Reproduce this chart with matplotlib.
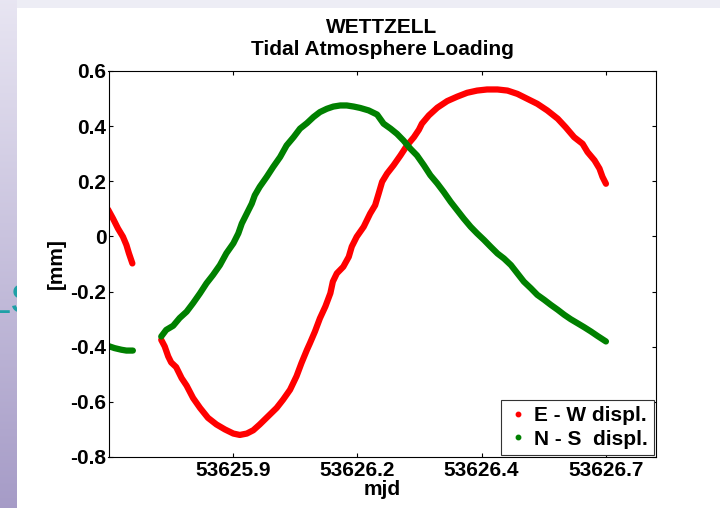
import numpy as np
import matplotlib
matplotlib.use('Agg')
import matplotlib.pyplot as plt
from matplotlib.lines import Line2D
from matplotlib.patches import Rectangle

plt.rcParams['font.family'] = 'Liberation Sans'
plt.rcParams['font.weight'] = 'bold'
plt.rcParams['font.size'] = 15

# Tidal atmosphere loading at WETTZELL, displacement in mm vs. mjd
# E-W component, short first piece and main piece after the data gap
ew_mjd_a = [53625.649, 53625.659, 53625.669, 53625.679, 53625.686, 53625.691, 53625.698]
ew_a = [0.098, 0.065, 0.029, -0.001, -0.031, -0.061, -0.098]

ew_mjd_b = [53625.756, 53625.763, 53625.770, 53625.776, 53625.786, 53625.797, 53625.807,
            53625.820, 53625.834, 53625.850, 53625.867, 53625.884, 53625.901, 53625.914,
            53625.928, 53625.941, 53625.954, 53625.971, 53625.988, 53626.001, 53626.015,
            53626.028, 53626.038, 53626.049, 53626.055, 53626.065, 53626.075, 53626.086,
            53626.096, 53626.101, 53626.109, 53626.122, 53626.133, 53626.139, 53626.149,
            53626.163, 53626.176, 53626.186, 53626.193, 53626.200, 53626.210, 53626.223,
            53626.237, 53626.250, 53626.264, 53626.274, 53626.280, 53626.294, 53626.311,
            53626.331, 53626.351, 53626.371, 53626.391, 53626.411, 53626.432, 53626.452,
            53626.472, 53626.492, 53626.512, 53626.532, 53626.553, 53626.569, 53626.586,
            53626.603, 53626.613, 53626.627, 53626.637, 53626.643, 53626.650]
ew_b = [-0.375, -0.399, -0.435, -0.457, -0.474, -0.514, -0.541,
        -0.586, -0.622, -0.658, -0.682, -0.700, -0.715, -0.720,
        -0.715, -0.703, -0.682, -0.652, -0.622, -0.592, -0.556,
        -0.507, -0.459, -0.411, -0.387, -0.345, -0.297, -0.254,
        -0.206, -0.164, -0.134, -0.110, -0.074, -0.037, -0.001,
        0.035, 0.083, 0.113, 0.155, 0.198, 0.228, 0.258,
        0.294, 0.330, 0.360, 0.387, 0.409, 0.439, 0.467,
        0.491, 0.507, 0.521, 0.529, 0.533, 0.533, 0.529,
        0.517, 0.499, 0.481, 0.457, 0.427, 0.396, 0.360,
        0.336, 0.306, 0.276, 0.246, 0.216, 0.191]

# N-S component
ns_mjd_a = [53625.649, 53625.662, 53625.676, 53625.686, 53625.699]
ns_a = [-0.397, -0.405, -0.411, -0.414, -0.414]

ns_mjd_b = [53625.756, 53625.766, 53625.780, 53625.793, 53625.807, 53625.820, 53625.834,
            53625.847, 53625.860, 53625.874, 53625.887, 53625.901, 53625.911, 53625.918,
            53625.928, 53625.938, 53625.944, 53625.954, 53625.968, 53625.981, 53625.995,
            53626.008, 53626.022, 53626.035, 53626.049, 53626.062, 53626.075, 53626.089,
            53626.102, 53626.116, 53626.129, 53626.143, 53626.156, 53626.173, 53626.190,
            53626.203, 53626.217, 53626.230, 53626.243, 53626.257, 53626.270, 53626.284,
            53626.297, 53626.311, 53626.324, 53626.338, 53626.351, 53626.364, 53626.378,
            53626.391, 53626.405, 53626.418, 53626.432, 53626.445, 53626.459, 53626.472,
            53626.485, 53626.499, 53626.512, 53626.526, 53626.539, 53626.553, 53626.566,
            53626.579, 53626.593, 53626.606, 53626.620, 53626.633, 53626.650]
ns_b = [-0.363, -0.339, -0.324, -0.296, -0.273, -0.242, -0.206,
        -0.170, -0.140, -0.104, -0.061, -0.025, 0.011, 0.047,
        0.083, 0.119, 0.149, 0.180, 0.216, 0.252, 0.288,
        0.330, 0.360, 0.391, 0.411, 0.433, 0.451, 0.463,
        0.471, 0.475, 0.475, 0.471, 0.466, 0.457, 0.442,
        0.409, 0.391, 0.372, 0.348, 0.318, 0.294, 0.258,
        0.222, 0.192, 0.161, 0.125, 0.095, 0.065, 0.035,
        0.011, -0.013, -0.037, -0.062, -0.080, -0.104, -0.134,
        -0.164, -0.188, -0.212, -0.230, -0.248, -0.266, -0.284,
        -0.300, -0.315, -0.329, -0.345, -0.361, -0.381]

x_ticks = [53625.9, 53626.15, 53626.4, 53626.65]
x_tick_labels = ['53625.9', '53626.2', '53626.4', '53626.7']
y_ticks = [-0.8, -0.6, -0.4, -0.2, 0.0, 0.2, 0.4, 0.6]
y_tick_labels = ['-0.8', '-0.6', '-0.4', '-0.2', '0', '0.2', '0.4', '0.6']
legend_labels = ['E - W displ.', 'N - S  displ.']

ew_color = '#ff0000'
ns_color = '#008000'

fig = plt.figure(figsize=(7.2, 5.08), dpi=100, facecolor='#ededf5')

# slide background: purple gradient strip on the left
top_rgb = np.array([0.91, 0.90, 0.95])
bot_rgb = np.array([0.65, 0.61, 0.78])
t = np.linspace(0, 1, 508)[:, None, None]
strip = np.repeat(top_rgb + (bot_rgb - top_rgb) * t, 17, axis=1)
fig.figimage(strip, xo=0, yo=0, origin='upper', zorder=0)
fig.text(-12.3 / 720, 1 - 313 / 508, 'LS', color='#1fa0a6', fontsize=30,
         fontweight='normal', va='baseline', zorder=0.5)
fig.patches.append(Rectangle((17 / 720, 0), 1 - 17 / 720, 1 - 8 / 508,
                             transform=fig.transFigure, facecolor='white',
                             edgecolor='none', zorder=1))

ax = fig.add_axes([108.5 / 720, 1 - 457 / 508, (655.7 - 108.5) / 720, (457 - 71) / 508])
ax.set_zorder(2)

line_kw = dict(lw=4.5, solid_capstyle='round', solid_joinstyle='round')
ax.plot(ew_mjd_a, ew_a, color=ew_color, **line_kw)
ax.plot(ew_mjd_b, ew_b, color=ew_color, **line_kw)
ax.plot(ns_mjd_a, ns_a, color=ns_color, **line_kw)
ax.plot(ns_mjd_b, ns_b, color=ns_color, **line_kw)

ax.set_xlim(53625.65, 53626.75)
ax.set_ylim(-0.8, 0.6)
ax.set_xticks(x_ticks)
ax.set_xticklabels(x_tick_labels)
ax.set_yticks(y_ticks)
ax.set_yticklabels(y_tick_labels)
ax.tick_params(direction='in', length=3, width=0.8, top=True, right=True, labelsize=15)
ax.tick_params(axis='x', pad=3)
ax.tick_params(axis='y', pad=1.5)
for sp in ax.spines.values():
    sp.set_linewidth(0.8)
    sp.set_color('black')

ax.set_title('WETTZELL\nTidal Atmosphere Loading', fontsize=15, fontweight='bold', pad=11.5)
ax.set_xlabel('mjd', fontsize=15, fontweight='bold', labelpad=0)
ax.set_ylabel('[mm]', fontsize=15, fontweight='bold', labelpad=3)

handles = [Line2D([], [], ls='none', marker='o', ms=3.2, color=ew_color),
           Line2D([], [], ls='none', marker='o', ms=3.2, color=ns_color)]
leg = ax.legend(handles, legend_labels, loc='lower right', fancybox=False,
                edgecolor='#333333', framealpha=1, borderpad=0.3, handlelength=1.0,
                handletextpad=0.25, labelspacing=0.22, borderaxespad=0.1,
                prop={'weight': 'bold', 'size': 15})
leg.get_frame().set_linewidth(0.8)

fig.savefig('out.png', dpi=100)
